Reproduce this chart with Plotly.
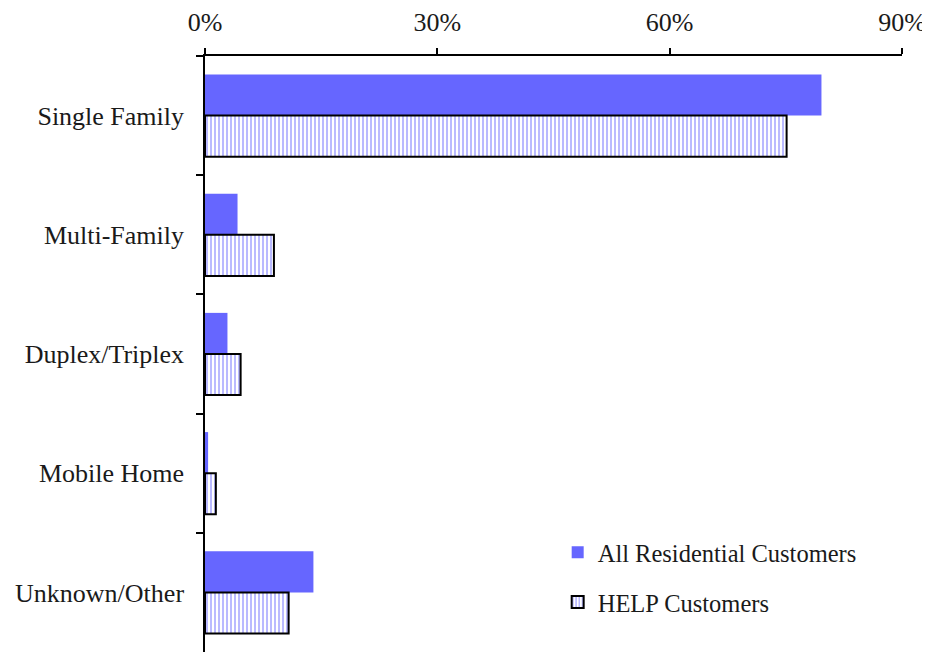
import plotly.graph_objects as go

categories = ["Single Family", "Multi-Family", "Duplex/Triplex", "Mobile Home", "Unknown/Other"]
all_residential = [79.6, 4.2, 2.9, 0.4, 14.0]
help_customers = [75.1, 8.9, 4.6, 1.4, 10.8]
series_names = ["All Residential Customers", "HELP Customers"]
x_ticks = [0, 30, 60, 90]

FONT = "Liberation Serif, Times New Roman, serif"
BLUE = "#6666FF"

fig = go.Figure()
fig.add_trace(go.Bar(
    y=categories, x=all_residential, orientation="h", name=series_names[0],
    marker=dict(color=BLUE, line=dict(width=0)), legendgroup="a",
))
fig.add_trace(go.Bar(
    y=categories, x=help_customers, orientation="h", name=series_names[1],
    marker=dict(color="white", line=dict(color="black", width=2),
                pattern=dict(shape="|", fgcolor=BLUE, bgcolor="white", size=4, solidity=0.45)),
    legendgroup="b",
))

fig.update_layout(
    width=922, height=644,
    margin=dict(l=197, r=28, t=45, b=0),
    paper_bgcolor="white", plot_bgcolor="white",
    font=dict(family=FONT, size=26, color="#1a1a1a"),
    barmode="group", bargap=0.31, bargroupgap=0,
    showlegend=True,
    legend=dict(x=0.506, y=0.205, xanchor="left", yanchor="top",
                bgcolor="rgba(0,0,0,0)", font=dict(family=FONT, size=24.5),
                tracegroupgap=15, itemwidth=30),
    xaxis=dict(side="top", range=[0, 90], tickvals=x_ticks,
               ticktext=[f"{v}%" for v in x_ticks],
               showline=True, linecolor="black", linewidth=1.5,
               ticks="outside", ticklen=6, tickcolor="black", tickwidth=1.5,
               showgrid=False, zeroline=False, ticklabelstandoff=7),
    yaxis=dict(autorange="reversed", showline=True, linecolor="black", linewidth=1.5,
               ticks="outside", ticklen=7, tickcolor="black", tickwidth=1.5,
               tickson="boundaries", showgrid=False, ticklabelstandoff=14),
)

fig.write_html("out.html")
